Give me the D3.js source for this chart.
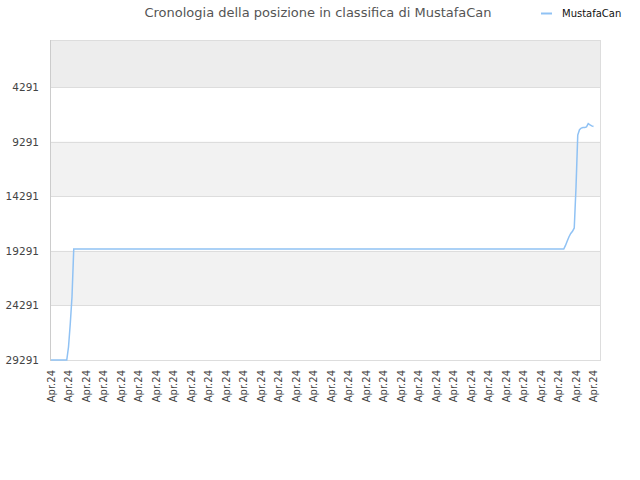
<!DOCTYPE html>
<html>
<head>
    <meta charset="utf-8">
    <title>Cronologia posizione MustafaCan</title>
    <script src="https://d3js.org/d3.v7.min.js"></script>
    <style>
        body { margin: 0; background: #fff; }
        svg { font-family: "DejaVu Sans", sans-serif; }
    </style>
</head>
<body>
    <svg width="640" height="480" id="chart"></svg>

    <script>
        // Data
        const seriesName = "MustafaCan";
        const titleText = "Cronologia della posizione in classifica di MustafaCan";
        const xLabels = d3.range(32).map(() => "Apr.24");
        const yTicks = [4291, 9291, 14291, 19291, 24291, 29291];
        // step index along the x axis (labels every 10 steps) and rank at that step
        const steps = [0, 9, 10, 11, 12, 13, 293, 294, 295, 296, 297, 298, 299, 300, 301, 302, 303, 304, 305, 306, 307, 308, 309, 310];
        const ranks = [29291, 29291, 28100, 26000, 23500, 19126, 19126, 18800, 18400, 18000, 17700, 17500, 17200, 13500, 8700, 8200, 8050, 8000, 8000, 7950, 7650, 7750, 7850, 7900];

        const svg = d3.select("#chart");
        const plotLeft = 50, plotRight = 600, plotTop = 40, plotBottom = 360;

        const x = d3.scaleLinear().domain([0, 310]).range([51, 593.5]);
        const y = d3.scaleLinear().domain([-13, 29291]).range([plotTop, plotBottom]);

        // alternating bands between gridlines
        const bandEdges = [-13].concat(yTicks);
        for (let i = 0; i < bandEdges.length - 1; i++) {
            if (i % 2 === 1) continue;
            svg.append("rect")
                .attr("x", plotLeft)
                .attr("y", y(bandEdges[i]))
                .attr("width", plotRight - plotLeft)
                .attr("height", y(bandEdges[i + 1]) - y(bandEdges[i]))
                .attr("fill", i === 0 ? "#ededed" : "#f2f2f2");
        }

        // gridlines
        svg.append("g").selectAll("line")
            .data(yTicks)
            .enter().append("line")
            .attr("x1", plotLeft).attr("x2", plotRight)
            .attr("y1", d => Math.round(y(d)) + 0.5)
            .attr("y2", d => Math.round(y(d)) + 0.5)
            .attr("stroke", "#dddddd");

        // plot frame
        svg.append("rect")
            .attr("x", plotLeft + 0.5).attr("y", plotTop + 0.5)
            .attr("width", plotRight - plotLeft).attr("height", plotBottom - plotTop)
            .attr("fill", "none")
            .attr("stroke", "#dddddd");
        svg.append("line")
            .attr("x1", plotLeft + 0.5).attr("x2", plotLeft + 0.5)
            .attr("y1", plotTop).attr("y2", plotBottom + 1)
            .attr("stroke", "#cccccc");

        // y labels
        svg.append("g").selectAll("text")
            .data(yTicks)
            .enter().append("text")
            .attr("x", 39)
            .attr("y", d => y(d) + 4)
            .attr("text-anchor", "end")
            .attr("font-size", "10.5px")
            .attr("fill", "#444")
            .text(d => d);

        // x labels, rotated
        svg.append("g").selectAll("text")
            .data(xLabels)
            .enter().append("text")
            .attr("transform", (d, i) => `translate(${x(i * 10) + 3.5},370) rotate(-90)`)
            .attr("text-anchor", "end")
            .attr("font-size", "10px")
            .attr("fill", "#444")
            .text(d => d);

        // series line
        const pts = steps.map((s, i) => [s, ranks[i]]);
        svg.append("path")
            .datum(pts)
            .attr("fill", "none")
            .attr("stroke", "#90c2f4")
            .attr("stroke-width", 1.5)
            .attr("d", d3.line().x(d => x(d[0])).y(d => y(d[1])));

        // title
        svg.append("text")
            .attr("x", 318).attr("y", 17)
            .attr("text-anchor", "middle")
            .attr("font-size", "13px")
            .attr("fill", "#555")
            .text(titleText);

        // legend
        svg.append("line")
            .attr("x1", 541).attr("x2", 552)
            .attr("y1", 13.5).attr("y2", 13.5)
            .attr("stroke", "#90c2f4")
            .attr("stroke-width", 2);
        svg.append("text")
            .attr("x", 562).attr("y", 17)
            .attr("font-size", "10px")
            .attr("fill", "#111")
            .text(seriesName);
    </script>
</body>
</html>
